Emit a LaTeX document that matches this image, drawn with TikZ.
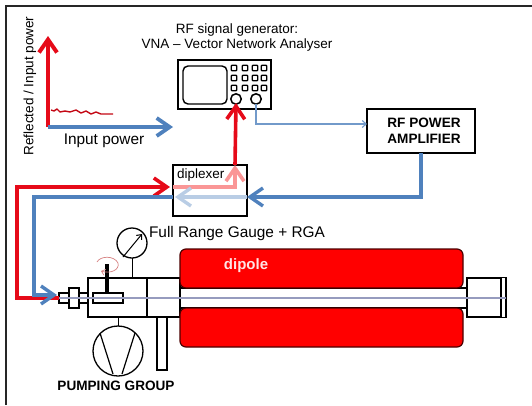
\documentclass[tikz,border=0pt]{standalone}
\usepackage{fontspec}
\setmainfont{Liberation Sans}
\usetikzlibrary{arrows.meta,positioning}
\definecolor{rfred}{RGB}{230,10,25}
\definecolor{rfblue}{RGB}{79,129,189}
\definecolor{rfpink}{RGB}{250,150,150}
\definecolor{rfpale}{RGB}{185,205,229}
\definecolor{beamgrey}{RGB}{150,155,190}
\definecolor{magnetred}{RGB}{255,0,0}
\definecolor{swirlred}{RGB}{215,130,130}
\tikzset{
    % Boxes of the layout
    box/.style={
        rectangle, draw=black, fill=white, line width=1.2pt,
        inner sep=0pt, outer sep=0pt
    },
    thickbox/.style={box, line width=1.5pt},
    magnet/.style={
        box, draw=black!70!red, fill=magnetred, rounded corners=6pt,
        minimum width=283pt, minimum height=39pt
    },
    keybutton/.style={
        box, line width=1.3pt, rounded corners=0.8pt,
        minimum width=5.4pt, minimum height=5.4pt
    },
    knob/.style={circle, draw=black, fill=white, line width=1.5pt,
        minimum size=10.5pt, inner sep=0pt, outer sep=0pt},
    dial/.style={circle, draw=black, fill=white, line width=1.3pt,
        inner sep=0pt, outer sep=0pt},
    % Power lines
    rfhead/.style={-{Straight Barb[length=13pt,width=18pt]}},
    redline/.style={draw=rfred, line width=3.6pt},
    blueline/.style={draw=rfblue, line width=3.4pt},
    signalline/.style={draw=rfblue!80!white, line width=1.1pt},
    beamline/.style={draw=beamgrey, line width=1.2pt},
    pipeline/.style={draw=black, line width=1pt},
    label/.style={font=\fontsize{15.4}{18}\selectfont, inner sep=0pt},
    smalllabel/.style={font=\fontsize{13.5}{15}\selectfont, inner sep=0pt},
    boldlabel/.style={font=\fontsize{13.6}{16}\selectfont\bfseries, inner sep=0pt, align=center},
}
\begin{document}
\begin{tikzpicture}[x=1pt,y=-1pt]
    \path[use as bounding box,fill=white] (0,0) rectangle (532,405);
    \draw[black!85,line width=1.3pt] (6,405) -- (6,6) -- (532,6);

    % Plot in the corner
    \coordinate (origin) at (48,127);
    \coordinate (ytip) at (48,36);
    \coordinate (xtip) at (173,127);
    \draw[redline,line width=4pt,rfhead] (origin) -- (ytip);
    \draw[blueline,line width=3.8pt,rfhead] (origin) -- (xtip);
    \draw[rfred!85!black,line width=1.4pt,line join=round]
      (51,110) -- (54,111) -- (57,109) -- (60,112) -- (65,111) -- (70,112) -- (76,110)
      -- (81,113) -- (86,111) -- (91,114) -- (96,112) -- (101,114) -- (113,114);
    \node[smalllabel,rotate=90] (ylabel) at (30,86) {Reflected / Input power};
    \node[label] (xlabel) at (104,141) {Input power};

    % Generator
    \node[smalllabel,align=center] (title) at (237,38) {RF signal generator:\\VNA -- Vector Network Analyser};
    \node[thickbox,minimum width=93pt,minimum height=49pt] (vna) at (224.5,84.5) {};
    \node[box,line width=1.4pt,rounded corners=5pt,minimum width=44pt,minimum height=38pt] (screen) at (205,85) {};
    \foreach \col/\xx in {1/234,2/245,3/255,4/264}
      \foreach \row/\yy in {1/68,2/78,3/88}
        \node[keybutton] (key\col\row) at (\xx,\yy) {};
    \node[knob] (knobA) at (236,99) {};
    \node[knob] (knobB) at (256,99) {};

    % Amplifier and diplexer
    \node[box,minimum width=108pt,minimum height=44pt] (amp) at (421,131) {};
    \node[boldlabel] (amplabel) at (424,131) {RF POWER\\AMPLIFIER};
    \node[box,minimum width=74pt,minimum height=51pt] (diplexer) at (210,190.5) {};
    \node[smalllabel,right=4pt of diplexer.north west,yshift=-10pt] (diplabel) {diplexer};
    \coordinate (signalcorner) at (256,124);
    \draw[signalline,-{Straight Barb[length=4pt,width=7pt]}] (knobB.south) -- (signalcorner) -- (amp.west |- signalcorner);

    % Vacuum side
    \node[box,minimum width=59pt,minimum height=39pt] (cross) at (117.5,297.5) {};
    \node[box,minimum width=33pt,minimum height=39pt] (valve) at (163.5,297.5) {};
    \draw[black,line width=1.6pt] (cross.north east) -- (cross.south east);
    \node[box,minimum width=10pt,minimum height=53pt,anchor=north] (stub) at (162,317) {};
    \node[box,minimum width=29pt,minimum height=10pt] (port) at (73.5,298) {};
    \node[box,minimum width=10pt,minimum height=20pt] (flange) at (74,298) {};
    \node[dial,minimum size=30pt] (gauge) at (132,243) {};
    \node[dial,minimum size=50pt] (pump) at (118,351) {};
    \draw[pipeline] (gauge.south) -- (gauge.south |- cross.north);
    \draw[pipeline] (pump.north) -- (pump.north |- cross.south);
    \draw[pipeline,-{Straight Barb[length=4pt,width=7pt]}] (123,257) -- (142,234);
    \draw[black,line width=1.2pt] (100,333) -- (113,374) (135,333) -- (122,374);

    % Dipole
    \node[box,minimum width=287pt,minimum height=20pt] (tube) at (323.5,298) {};
    \node[magnet] (magnetA) at (321.5,268.5) {};
    \node[magnet] (magnetB) at (321.5,327.5) {};
    \node[box,minimum width=34pt,minimum height=39pt] (endbox) at (484,297.5) {};
    \node[box,minimum width=5pt,minimum height=40pt] (endcap) at (503.5,297.5) {};
    \node[font=\fontsize{15}{18}\selectfont\bfseries,text=white!90!red,inner sep=0pt] (dipole) at (246,266) {dipole};
    \node[label] (gaugelabel) at (237,234) {Full Range Gauge + RGA};
    \node[boldlabel] (pumplabel) at (116,386) {PUMPING GROUP};

    % Power lines
    \coordinate (redstart) at (port.west);
    \coordinate (redcorner) at (17,187);
    \coordinate (redin) at (diplexer.west |- redcorner);
    \coordinate (redturn) at (235,187);
    \coordinate (redout) at (diplexer.north -| redturn);
    \coordinate (vnaport) at (236,103);
    \draw[redline,line join=miter,rfhead] (redstart) -| (redcorner) -- ([xshift=-3pt]redin);
    \draw[rfpink,line width=3.6pt,rfhead] (redin) -- (redturn) -- (redout);
    \draw[redline,rfhead] (redout) -- (vnaport);

    \coordinate (bluecorner) at (421,197);
    \coordinate (bluein) at (diplexer.east |- bluecorner);
    \coordinate (blueout) at (diplexer.west |- bluecorner);
    \coordinate (bluedown) at (34,197);
    \coordinate (blueport) at (57,295);
    \draw[blueline,rfhead] (amp.south -| bluecorner) -- (bluecorner) -- (bluein);
    \draw[rfpale,line width=3.4pt,rfhead] (bluein) -- (175,197);
    \draw[blueline,rfhead] (blueout) -- (bluedown) |- (blueport);

    % Gate with handle
    \node[box,minimum width=30pt,minimum height=10pt] (gate) at (108,298) {};
    \draw[black,line width=4.5pt] (gate.north -| 107,0) -- (107,264);
    \draw[swirlred,line width=0.7pt,-{Straight Barb[length=3.5pt,width=6pt]}]
      (97,262) .. controls (100,256) and (114,255) .. (118,263)
      .. controls (120,270) and (110,274) .. (101,271);
    \draw[beamline] (port.west) -- (endcap.east |- port.west);
\end{tikzpicture}
\end{document}
